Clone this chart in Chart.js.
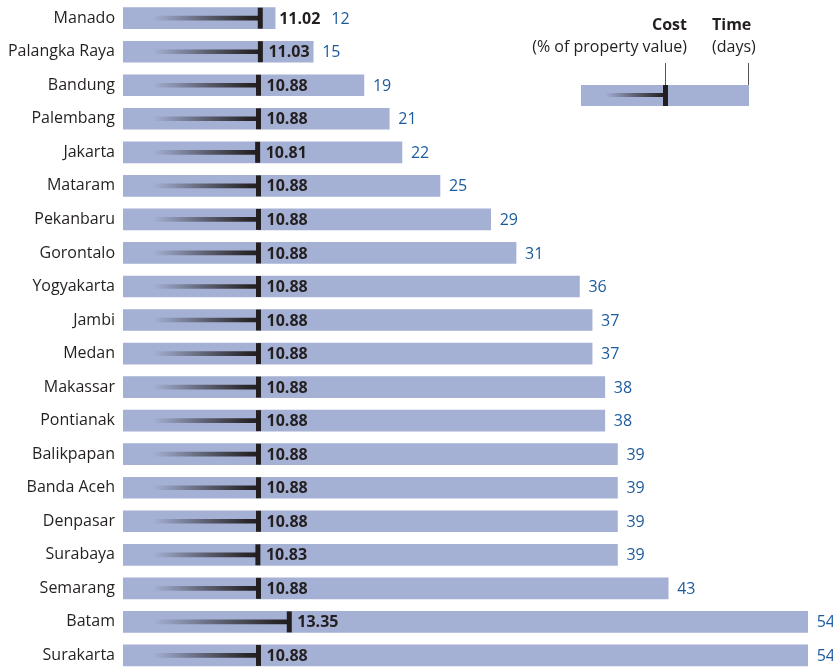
<!DOCTYPE html>
<html>
<head>
<meta charset="utf-8">
<script src="https://cdn.jsdelivr.net/npm/chart.js@4"></script>
<style>
  html, body { margin: 0; padding: 0; background: #fff; overflow: hidden; }
  #wrap { width: 833px; height: 674px; }
</style>
</head>
<body>
<div id="wrap"><canvas id="chart" width="833" height="674"></canvas></div>
<script>
// city names, top to bottom
const cities = [
  'Manado', 'Palangka Raya', 'Bandung', 'Palembang', 'Jakarta', 'Mataram',
  'Pekanbaru', 'Gorontalo', 'Yogyakarta', 'Jambi', 'Medan', 'Makassar',
  'Pontianak', 'Balikpapan', 'Banda Aceh', 'Denpasar', 'Surabaya',
  'Semarang', 'Batam', 'Surakarta',
];
// time to register property (days)
const days = [12, 15, 19, 21, 22, 25, 29, 31, 36, 37, 37, 38, 38, 39, 39, 39, 39, 43, 54, 54];
// cost (% of property value)
const cost = [
  11.02, 11.03, 10.88, 10.88, 10.81, 10.88, 10.88, 10.88, 10.88, 10.88,
  10.88, 10.88, 10.88, 10.88, 10.88, 10.88, 10.83, 10.88, 13.35, 10.88,
];

const BAR_COLOR = '#a4b0d4';
const DARK = '#231f20';
const BLUE = '#1c5b9d';
const FONT = '"Open Sans", "Noto Sans", sans-serif';
const TRAIL_START = 2.4; // where the fading cost trail begins (cost units)

function trailGradient(ctx) {
  const chart = ctx.chart;
  const xs = chart.scales.xc;
  if (!xs || ctx.dataIndex == null) return DARK;
  const x0 = xs.getPixelForValue(TRAIL_START);
  const x1 = xs.getPixelForValue(cost[ctx.dataIndex]);
  if (!Number.isFinite(x0) || !Number.isFinite(x1) || x1 <= x0) return DARK;
  const g = chart.ctx.createLinearGradient(x0, 0, x1, 0);
  g.addColorStop(0, 'rgba(35,31,32,0)');
  g.addColorStop(0.5, 'rgba(35,31,32,0.55)');
  g.addColorStop(0.9, 'rgba(35,31,32,0.95)');
  g.addColorStop(1, DARK);
  return g;
}

const valueLabels = {
  id: 'valueLabels',
  afterDatasetsDraw(chart) {
    const { ctx } = chart;
    const xs = chart.scales.xc;
    const ys = chart.scales.y;
    const barMeta = chart.getDatasetMeta(0);
    ctx.save();
    ctx.textBaseline = 'middle';
    ctx.textAlign = 'left';
    cities.forEach((_, i) => {
      const y = ys.getPixelForValue(i) + 1;
      const barEnd = barMeta.data[i].x;
      const label = cost[i].toFixed(2);
      ctx.font = `bold 16px ${FONT}`;
      ctx.fillStyle = DARK;
      const w = ctx.measureText(label).width;
      let cx = xs.getPixelForValue(cost[i]) + 8;
      // label would straddle the bar end: push it just past the bar
      if (cx + w > barEnd) cx = Math.max(cx, barEnd + 4);
      ctx.fillText(label, cx, y);
      const costEnd = cx + w;
      ctx.font = `16px ${FONT}`;
      ctx.fillStyle = BLUE;
      ctx.fillText(String(days[i]), Math.max(barEnd + 9, costEnd + 11), y);
    });
    ctx.restore();
  },
};

const keyBox = {
  id: 'keyBox',
  afterDraw(chart) {
    const { ctx } = chart;
    ctx.save();
    ctx.textBaseline = 'middle';
    ctx.fillStyle = DARK;
    ctx.font = `bold 16px ${FONT}`;
    ctx.textAlign = 'right';
    ctx.fillText('Cost', 687, 25);
    ctx.textAlign = 'left';
    ctx.fillText('Time', 712, 25);
    ctx.font = `16px ${FONT}`;
    ctx.textAlign = 'right';
    ctx.fillText('(% of property value)', 687, 47);
    ctx.textAlign = 'left';
    ctx.fillText('(days)', 712, 47);

    ctx.fillStyle = BAR_COLOR;
    ctx.fillRect(581, 85, 168, 21);
    const g = ctx.createLinearGradient(605, 0, 665, 0);
    g.addColorStop(0, 'rgba(35,31,32,0)');
    g.addColorStop(0.5, 'rgba(35,31,32,0.55)');
    g.addColorStop(1, DARK);
    ctx.fillStyle = g;
    ctx.fillRect(605, 93, 60, 4);
    ctx.fillStyle = DARK;
    ctx.fillRect(663, 85, 5, 21);

    ctx.strokeStyle = '#555';
    ctx.lineWidth = 1;
    ctx.beginPath();
    ctx.moveTo(665.5, 63); ctx.lineTo(665.5, 85);
    ctx.moveTo(748.5, 63); ctx.lineTo(748.5, 85);
    ctx.stroke();
    ctx.restore();
  },
};

new Chart(document.getElementById('chart'), {
  type: 'bar',
  data: {
    labels: cities,
    datasets: [
      {
        label: 'Time (days)',
        data: days,
        xAxisID: 'x',
        backgroundColor: BAR_COLOR,
        barThickness: 21,
        grouped: false,
        order: 3,
      },
      {
        label: 'Cost trail',
        data: cost.map((c) => [TRAIL_START, c]),
        xAxisID: 'xc',
        backgroundColor: trailGradient,
        barThickness: 4,
        grouped: false,
        order: 2,
      },
      {
        type: 'line',
        label: 'Cost (% of property value)',
        data: cost,
        indexAxis: 'y',
        xAxisID: 'xc',
        showLine: false,
        pointStyle: 'line',
        rotation: 90,
        pointRadius: 10.5,
        pointHoverRadius: 10.5,
        pointBorderWidth: 5,
        pointBorderColor: DARK,
        clip: false,
        order: 1,
      },
    ],
  },
  options: {
    indexAxis: 'y',
    responsive: false,
    animation: false,
    devicePixelRatio: 1,
    layout: { autoPadding: false, padding: { top: 1.4, bottom: 1.8, left: 0, right: 0 } },
    scales: {
      x: { display: false, min: 0, max: 56 },
      xc: { display: false, min: 0, max: 57 },
      y: {
        grid: { display: false, drawTicks: false },
        border: { display: false },
        ticks: {
          color: DARK,
          padding: 8,
          font: { family: FONT, size: 16 },
        },
        afterFit(scale) {
          scale.width = 123;
          scale.paddingTop = 0;
          scale.paddingBottom = 0;
        },
      },
    },
    plugins: {
      legend: { display: false },
      tooltip: { enabled: false },
    },
  },
  plugins: [valueLabels, keyBox],
});
</script>
</body>
</html>
